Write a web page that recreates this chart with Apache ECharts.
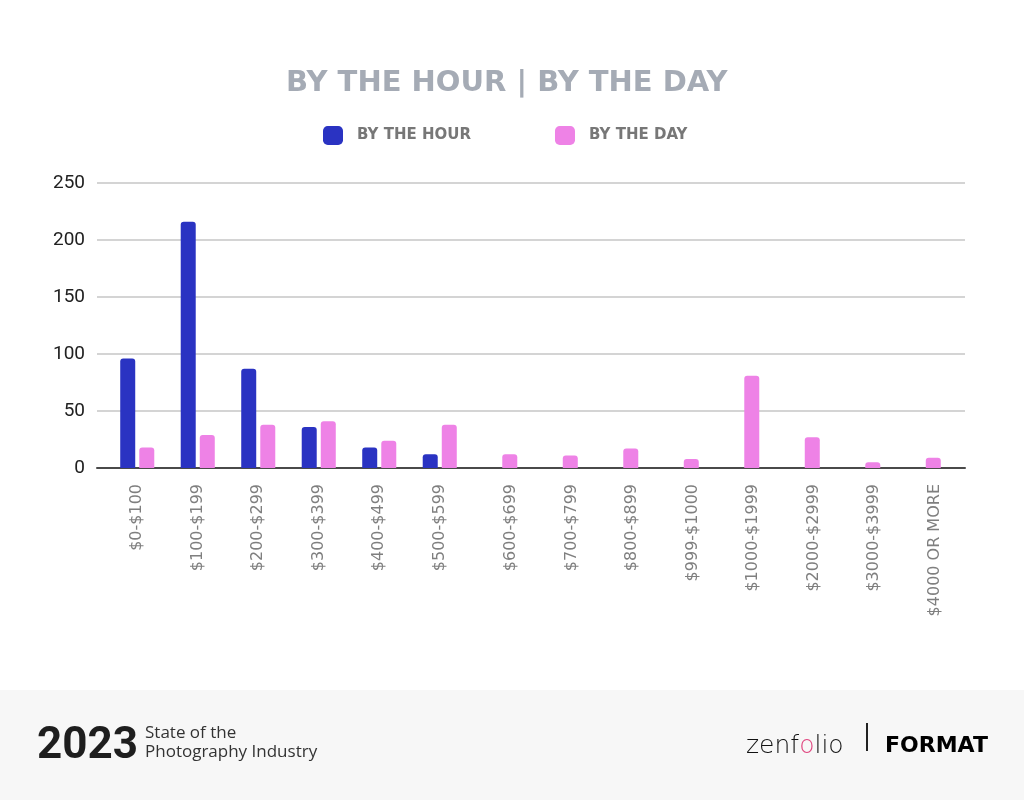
<!DOCTYPE html>
<html>
<head>
<meta charset="utf-8">
<script src="https://cdn.jsdelivr.net/npm/echarts@6/dist/echarts.min.js"></script>
<style>html,body{margin:0;padding:0;background:#fff}#c{width:1024px;height:800px}</style>
</head>
<body>
<div id="c"></div>
<script>
const categories = ['$0-$100','$100-$199','$200-$299','$300-$399','$400-$499','$500-$599','$600-$699','$700-$799','$800-$899','$999-$1000','$1000-$1999','$2000-$2999','$3000-$3999','$4000 OR MORE'];
const byTheHour = [96, 216, 87, 36, 18, 12, null, null, null, null, null, null, null, null];
const byTheDay = [18, 29, 38, 41, 24, 38, 12, 11, 17, 8, 81, 27, 5, 9];
const yTicks = [0, 50, 100, 150, 200, 250];

const chart = echarts.init(document.getElementById('c'), null, {renderer: 'canvas'});
const gridTop = 183, gridBottom = 332;
chart.setOption({
  animation: false,
  backgroundColor: '#ffffff',
  title: {
    text: 'BY THE HOUR | BY THE DAY',
    left: 281, top: 64,
    textStyle: {fontFamily: 'DejaVu Sans', fontSize: 29, fontWeight: 'bold', color: '#a5abb5'}
  },
  legend: {
    left: 318, top: 121,
    itemWidth: 20, itemHeight: 19, itemGap: 84,
    icon: 'roundRect',
    data: ['BY THE HOUR', 'BY THE DAY'],
    textStyle: {fontFamily: 'DejaVu Sans', fontSize: 15, fontWeight: 'bold', color: '#777777', padding: [0, 0, 0, 9]}
  },
  grid: [
    {left: 107, right: 70, top: gridTop, bottom: gridBottom},
    {left: 97, right: 59, top: gridTop, bottom: gridBottom}
  ],
  xAxis: [
    {
      type: 'category', gridIndex: 0, data: categories,
      axisLine: {show: false}, axisTick: {show: false},
      axisLabel: {
        rotate: 90, interval: 0, margin: 16,
        fontFamily: 'DejaVu Sans', fontSize: 16, color: '#7f7f7f',
        formatter: function (v, i) { return i >= 6 ? '{b|' + v + '}' : '{a|' + v + '}'; },
        rich: {
          a: {fontFamily: 'DejaVu Sans', fontSize: 16, color: '#7f7f7f'},
          b: {fontFamily: 'DejaVu Sans', fontSize: 16, color: '#7f7f7f', padding: [22, 0, 0, 0]}
        }
      }
    },
    {
      type: 'value', gridIndex: 1, min: 0, max: 1,
      axisLabel: {show: false}, axisTick: {show: false}, splitLine: {show: false},
      axisLine: {show: true, lineStyle: {color: '#4a4a4a', width: 2}}
    }
  ],
  yAxis: [
    {type: 'value', gridIndex: 0, min: 0, max: 250, interval: 50, show: false},
    {
      type: 'value', gridIndex: 1, min: 0, max: 250, interval: 50,
      axisLine: {show: false}, axisTick: {show: false},
      axisLabel: {
        margin: 12, fontFamily: 'Roboto', fontSize: 19, color: '#212121',
        formatter: function (v) { return yTicks.indexOf(v) >= 0 ? String(v) : ''; }
      },
      splitLine: {lineStyle: {color: '#d4d4d4', width: 2}}
    }
  ],
  series: [
    {
      name: 'BY THE HOUR', type: 'bar', xAxisIndex: 0, yAxisIndex: 0,
      data: byTheHour, barWidth: 15, barGap: '27%',
      itemStyle: {color: '#2a33c2', borderRadius: [3, 3, 0, 0]}
    },
    {
      name: 'BY THE DAY', type: 'bar', xAxisIndex: 0, yAxisIndex: 0,
      data: byTheDay, barWidth: 15, barGap: '27%',
      itemStyle: {color: '#ee82e6', borderRadius: [3, 3, 0, 0]}
    }
  ],
  graphic: [
    {type: 'rect', left: 0, top: 690, z: -10, shape: {width: 1024, height: 110}, style: {fill: '#f7f7f7'}},
    {type: 'text', left: 37, top: 725, style: {text: '2023', font: 'bold 44px Roboto', fill: '#1e1e1e'}},
    {type: 'text', left: 145, top: 724, style: {text: 'State of the\nPhotography Industry', font: '17px "Open Sans"', lineHeight: 19, fill: '#333333'}},
    {type: 'text', left: 746, top: 734, style: {
      text: '{z|zenf}{o|o}{z|lio}',
      rich: {z: {font: '200 25px "DejaVu Sans"', fill: '#111111'}, o: {font: '200 25px "DejaVu Sans"', fill: '#e0457f'}}
    }},
    {type: 'rect', left: 866, top: 723, shape: {width: 2, height: 28}, style: {fill: '#222222'}},
    {type: 'text', left: 885, top: 735, style: {text: 'FORMAT', font: '900 22px "DejaVu Sans"', fill: '#000000'}}
  ]
});
</script>
</body>
</html>
